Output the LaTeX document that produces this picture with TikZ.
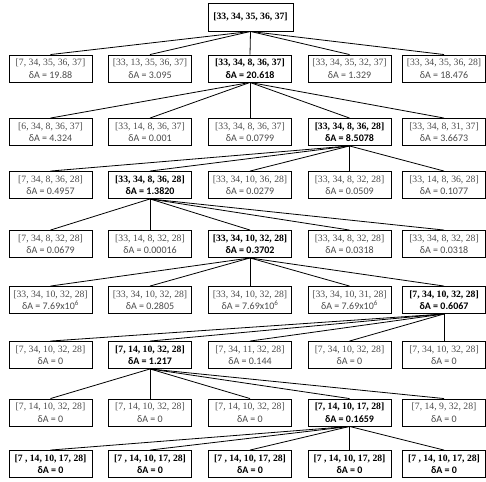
\documentclass[tikz,border=0pt]{standalone}
\usepackage{fontspec}
\setmainfont{Liberation Serif}
\newfontfamily\calib{Carlito}
\definecolor{txtgray}{RGB}{75,75,75}
\tikzset{
  nbox/.style={draw=black, line width=0.9pt, minimum width=83pt, minimum height=27pt,
    inner sep=0pt, align=center, text=txtgray, font=\fontsize{9.7}{12.5}\selectfont},
  bbox/.style={nbox, text=black, font=\fontsize{9.7}{12.5}\selectfont\bfseries},
  edge/.style={draw=black, line width=0.8pt}
}
\newcommand\dA[1]{{\calib\fontsize{10}{12.5}\selectfont δA = #1}}
\begin{document}
\begin{tikzpicture}[x=1pt,y=-1pt]
\useasboundingbox (0,0) rectangle (486,481);
% columns
\def\ca{50.5}\def\cb{150}\def\cc{250}\def\cd{349.5}\def\ce{444}
% root
\node[bbox, minimum width=85pt, minimum height=28pt] (r) at (250.5,17) {[33, 34, 35, 36, 37]};
% row 1
\node[nbox] (a1) at (\ca,68.5) {[7, 34, 35, 36, 37]\\\dA{19.88}};
\node[nbox] (a2) at (\cb,68.5) {[33, 13, 35, 36, 37]\\\dA{3.095}};
\node[bbox] (a3) at (\cc,68.5) {[33, 34, 8, 36, 37]\\\dA{20.618}};
\node[nbox] (a4) at (\cd,68.5) {[33, 34, 35, 32, 37]\\\dA{1.329}};
\node[nbox] (a5) at (\ce,68.5) {[33, 34, 35, 36, 28]\\\dA{18.476}};
% row 2
\node[nbox] (b1) at (\ca,132) {[6, 34, 8, 36, 37]\\\dA{4.324}};
\node[nbox] (b2) at (\cb,132) {[33, 14, 8, 36, 37]\\\dA{0.001}};
\node[nbox] (b3) at (\cc,132) {[33, 34, 8, 36, 37]\\\dA{0.0799}};
\node[bbox] (b4) at (\cd,132) {[33, 34, 8, 36, 28]\\\dA{8.5078}};
\node[nbox] (b5) at (\ce,132) {[33, 34, 8, 31, 37]\\\dA{3.6673}};
% row 3
\node[nbox] (c1) at (\ca,185) {[7, 34, 8, 36, 28]\\\dA{0.4957}};
\node[bbox] (c2) at (\cb,185) {[33, 34, 8, 36, 28]\\\dA{1.3820}};
\node[nbox] (c3) at (\cc,185) {[33, 34, 10, 36, 28]\\\dA{0.0279}};
\node[nbox] (c4) at (\cd,185) {[33, 34, 8, 32, 28]\\\dA{0.0509}};
\node[nbox] (c5) at (\ce,185) {[33, 14, 8, 36, 28]\\\dA{0.1077}};
% row 4
\node[nbox] (d1) at (\ca,244) {[7, 34, 8, 32, 28]\\\dA{0.0679}};
\node[nbox] (d2) at (\cb,244) {[33, 14, 8, 32, 28]\\\dA{0.00016}};
\node[bbox] (d3) at (\cc,244) {[33, 34, 10, 32, 28]\\\dA{0.3702}};
\node[nbox] (d4) at (\cd,244) {[33, 34, 8, 32, 28]\\\dA{0.0318}};
\node[nbox] (d5) at (\ce,244) {[33, 34, 8, 32, 28]\\\dA{0.0318}};
% row 5
\node[nbox] (e1) at (\ca,300) {[33, 34, 10, 32, 28]\\\dA{7.69x10\textsuperscript{6}}};
\node[nbox] (e2) at (\cb,300) {[33, 34, 10, 32, 28]\\\dA{0.2805}};
\node[nbox] (e3) at (\cc,300) {[33, 34, 10, 32, 28]\\\dA{7.69x10\textsuperscript{6}}};
\node[nbox] (e4) at (\cd,300) {[33, 34, 10, 31, 28]\\\dA{7.69x10\textsuperscript{6}}};
\node[bbox] (e5) at (\ce,300) {[7, 34, 10, 32, 28]\\\dA{0.6067}};
% row 6
\node[nbox] (f1) at (\ca,355) {[7, 34, 10, 32, 28]\\\dA{0}};
\node[bbox] (f2) at (\cb,355) {[7, 14, 10, 32, 28]\\\dA{1.217}};
\node[nbox] (f3) at (\cc,355) {[7, 34, 11, 32, 28]\\\dA{0.144}};
\node[nbox] (f4) at (\cd,355) {[7, 34, 10, 32, 28]\\\dA{0}};
\node[nbox] (f5) at (\ce,355) {[7, 34, 10, 32, 28]\\\dA{0}};
% row 7
\node[nbox] (g1) at (\ca,412.5) {[7, 14, 10, 32, 28]\\\dA{0}};
\node[nbox] (g2) at (\cb,412.5) {[7, 14, 10, 32, 28]\\\dA{0}};
\node[nbox] (g3) at (\cc,412.5) {[7, 14, 10, 32, 28]\\\dA{0}};
\node[bbox] (g4) at (\cd,412.5) {[7, 14, 10, 17, 28]\\\dA{0.1659}};
\node[nbox] (g5) at (\ce,412.5) {[7, 14, 9, 32, 28]\\\dA{0}};
% row 8
\node[bbox] (h1) at (\ca,464) {[7 , 14, 10, 17, 28]\\\dA{0}};
\node[bbox] (h2) at (\cb,464) {[7 , 14, 10, 17, 28]\\\dA{0}};
\node[bbox] (h3) at (\cc,464) {[7 , 14, 10, 17, 28]\\\dA{0}};
\node[bbox] (h4) at (\cd,464) {[7 , 14, 10, 17, 28]\\\dA{0}};
\node[bbox] (h5) at (\ce,464) {[7 , 14, 10, 17, 28]\\\dA{0}};
% edges
\foreach \p/\c in {r/a, a3/b, b4/c, c2/d, d3/e, e5/f, f2/g, g4/h}{
  \foreach \i in {1,...,5}{
    \draw[edge] (\p.south) -- (\c\i.north);
  }
}
\end{tikzpicture}
\end{document}
